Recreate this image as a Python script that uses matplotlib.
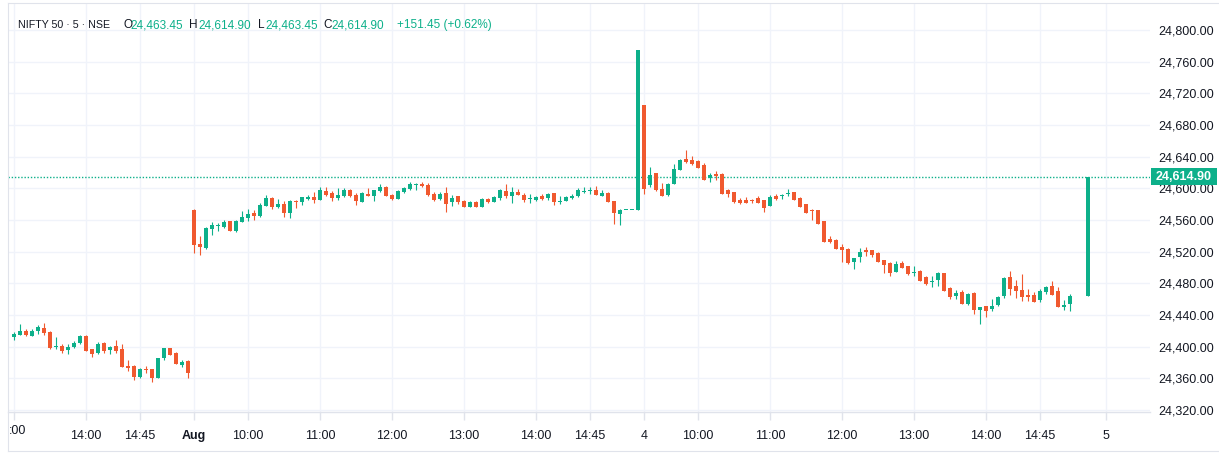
import matplotlib
matplotlib.use('Agg')
import matplotlib.pyplot as plt
from matplotlib.patches import Rectangle
from matplotlib.lines import Line2D
import numpy as np

plt.rcParams['font.family'] = ['Liberation Sans', 'DejaVu Sans']

W, H = 1219, 458
GREEN = '#0DB08A'
RED = '#F0592F'
TEXT = '#131722'
GRID = '#f0f3fa'
BORDER = '#e0e3eb'

# ---------------- data (NIFTY 50, 5-minute candles) ----------------
# Jul 31, 13:00 -> 15:25
jul31_open = [24412.2, 24414.7, 24419.4, 24413.5, 24419.8, 24423.2, 24418.1, 24399.2, 24400.4, 24395.8,
              24399.6, 24404.6, 24413.1, 24396.6, 24392.0, 24404.2, 24396.2, 24400.4, 24396.6, 24375.2,
              24375.2, 24361.7, 24371.4, 24371.4, 24360.4, 24385.3, 24398.7, 24391.6, 24376.8, 24381.5]
jul31_high = [24418.5, 24428.2, 24421.9, 24421.9, 24427.4, 24429.5, 24420.2, 24411.8, 24403.4, 24403.8,
              24406.7, 24414.3, 24414.3, 24397.5, 24405.9, 24405.5, 24400.4, 24408.0, 24403.4, 24382.7,
              24376.4, 24372.6, 24375.6, 24371.4, 24385.7, 24398.7, 24398.7, 24393.3, 24382.7, 24382.7]
jul31_low = [24408.4, 24414.7, 24413.5, 24413.5, 24416.4, 24414.7, 24396.6, 24397.5, 24392.0, 24390.7,
             24398.3, 24403.4, 24394.5, 24387.0, 24390.3, 24392.4, 24390.7, 24392.4, 24374.3, 24369.7,
             24357.5, 24360.8, 24366.3, 24355.4, 24360.4, 24383.2, 24389.5, 24378.1, 24374.7, 24360.4]
jul31_close = [24415.6, 24419.4, 24414.3, 24420.2, 24424.4, 24417.3, 24397.9, 24400.0, 24394.5, 24400.0,
               24404.6, 24413.1, 24394.5, 24390.7, 24403.0, 24394.5, 24399.2, 24394.5, 24374.3, 24373.1,
               24361.7, 24371.4, 24370.1, 24360.4, 24385.3, 24398.7, 24389.5, 24378.1, 24380.6, 24366.7]

# Aug 1, 09:15 -> 15:25
aug1_open = [24572.6, 24529.7, 24524.6, 24548.6, 24552.8, 24551.6, 24558.7, 24546.1, 24557.9, 24562.5,
             24568.8, 24565.1, 24578.1, 24587.8, 24576.8, 24580.2, 24569.3, 24584.4, 24583.2, 24586.1,
             24589.1, 24585.3, 24596.6, 24594.1, 24587.8, 24590.3, 24597.9, 24591.6, 24582.7, 24592.8,
             24590.3, 24596.6, 24601.7, 24591.6, 24587.0, 24595.4, 24599.6, 24604.6, 24605.5, 24604.2,
             24592.8, 24586.5, 24594.1, 24582.7, 24590.3, 24584.0, 24576.4, 24582.7, 24576.4, 24586.5,
             24582.7, 24587.8, 24596.6, 24590.3, 24595.4, 24591.6, 24586.1, 24585.3, 24590.3, 24587.8,
             24594.1, 24582.7, 24584.0, 24587.8, 24590.3, 24595.8, 24596.6, 24597.9, 24590.3, 24594.1,
             24584.0, 24567.6, 24573.0, 24573.0, 24573.0]
aug1_high = [24574.0, 24539.8, 24550.7, 24557.5, 24556.6, 24560.0, 24558.7, 24560.0, 24571.8, 24573.9,
             24572.6, 24581.9, 24592.0, 24589.5, 24586.5, 24584.0, 24585.3, 24585.3, 24588.6, 24591.6,
             24595.4, 24601.7, 24601.7, 24596.6, 24600.4, 24600.4, 24599.2, 24594.1, 24595.4, 24600.4,
             24597.9, 24605.5, 24602.9, 24592.8, 24597.9, 24601.7, 24608.0, 24606.7, 24608.0, 24606.7,
             24595.4, 24595.4, 24601.7, 24591.6, 24590.3, 24585.3, 24584.0, 24584.0, 24587.8, 24587.8,
             24590.3, 24599.2, 24605.5, 24601.7, 24599.2, 24594.1, 24592.8, 24590.3, 24592.8, 24594.1,
             24594.1, 24590.3, 24590.3, 24592.8, 24600.4, 24601.7, 24601.7, 24602.9, 24597.9, 24595.4,
             24584.0, 24573.9, 24573.0, 24573.0, 24774.8]
aug1_low = [24517.9, 24516.2, 24523.8, 24541.0, 24545.7, 24549.9, 24546.5, 24544.8, 24557.9, 24559.2,
            24560.4, 24564.2, 24578.1, 24573.5, 24575.6, 24564.2, 24562.9, 24575.6, 24579.4, 24584.8,
            24581.9, 24585.3, 24590.3, 24584.0, 24585.3, 24589.0, 24589.0, 24579.4, 24582.7, 24590.7,
            24584.4, 24595.4, 24590.3, 24585.7, 24587.0, 24594.1, 24598.3, 24598.3, 24602.1, 24590.3,
            24584.0, 24585.3, 24570.1, 24577.7, 24580.2, 24576.4, 24576.4, 24576.4, 24576.4, 24581.5,
            24582.7, 24585.3, 24587.8, 24581.5, 24591.6, 24582.7, 24581.5, 24584.0, 24585.3, 24585.3,
            24578.9, 24580.2, 24584.0, 24586.5, 24589.0, 24594.1, 24592.8, 24591.6, 24590.3, 24582.7,
            24554.9, 24553.7, 24573.0, 24573.0, 24573.0]
aug1_close = [24528.4, 24526.3, 24549.9, 24553.7, 24554.1, 24557.5, 24546.5, 24558.7, 24563.8, 24568.0,
              24565.5, 24579.4, 24587.8, 24576.8, 24580.2, 24569.3, 24584.0, 24583.2, 24588.6, 24589.1,
              24585.3, 24597.9, 24591.6, 24587.8, 24591.6, 24597.9, 24590.3, 24584.4, 24594.1, 24590.7,
              24597.9, 24601.7, 24590.3, 24587.0, 24596.6, 24600.4, 24605.5, 24605.5, 24603.4, 24591.6,
              24585.3, 24592.8, 24580.2, 24587.8, 24582.7, 24576.4, 24582.7, 24576.4, 24586.5, 24582.7,
              24589.1, 24597.9, 24590.3, 24595.4, 24591.6, 24585.3, 24586.9, 24589.1, 24586.5, 24592.8,
              24582.7, 24584.0, 24589.1, 24590.3, 24597.9, 24596.6, 24597.9, 24591.6, 24594.1, 24582.7,
              24568.8, 24572.6, 24573.0, 24573.0, 24774.8]

# Aug 4, 09:15 -> 15:25
aug4_open = [24705.3, 24604.3, 24619.4, 24599.2, 24591.7, 24605.5, 24623.2, 24637.1, 24635.9, 24634.6,
             24629.5, 24613.1, 24618.2, 24618.2, 24598.0, 24595.4, 24585.3, 24585.3, 24585.8, 24587.9,
             24585.3, 24577.3, 24590.8, 24590.0, 24592.5, 24595.9, 24588.3, 24579.9, 24572.3, 24572.0,
             24558.1, 24535.4, 24534.1, 24525.3, 24522.8, 24506.7, 24513.1, 24521.5, 24521.5, 24517.7,
             24508.9, 24505.5, 24494.1, 24505.1, 24501.3, 24492.9, 24495.4, 24487.4, 24481.9, 24484.0,
             24492.9, 24473.9, 24463.8, 24468.7, 24453.5, 24467.4, 24446.3, 24451.0, 24447.2, 24452.2,
             24463.6, 24487.6, 24476.2, 24471.2, 24464.9, 24464.9, 24458.5, 24468.7, 24476.2, 24469.9,
             24449.7, 24453.5, 24463.45, 24463.45, 24463.45]
aug4_high = [24705.3, 24627.0, 24619.4, 24606.8, 24606.8, 24630.8, 24637.1, 24648.5, 24640.9, 24635.9,
             24632.1, 24619.4, 24622.0, 24619.4, 24599.2, 24595.4, 24587.9, 24589.1, 24586.6, 24590.4,
             24585.3, 24592.1, 24593.3, 24592.5, 24598.8, 24595.9, 24589.5, 24579.9, 24573.5, 24572.0,
             24558.1, 24540.4, 24536.6, 24529.1, 24524.0, 24511.4, 24524.0, 24525.3, 24521.5, 24520.2,
             24508.9, 24506.7, 24507.6, 24507.6, 24501.3, 24501.3, 24496.6, 24489.1, 24489.1, 24494.1,
             24492.9, 24475.2, 24471.4, 24471.2, 24467.4, 24468.7, 24449.7, 24451.0, 24459.8, 24463.6,
             24487.6, 24495.2, 24483.8, 24491.4, 24472.4, 24468.7, 24472.4, 24476.2, 24482.5, 24474.9,
             24458.5, 24466.1, 24463.45, 24463.45, 24614.90]
aug4_low = [24592.9, 24601.8, 24596.7, 24590.4, 24590.4, 24605.5, 24623.2, 24632.1, 24629.5, 24626.2,
            24610.6, 24608.1, 24610.6, 24592.9, 24589.1, 24581.5, 24580.3, 24581.5, 24581.5, 24581.5,
            24570.2, 24577.3, 24585.8, 24586.6, 24590.0, 24584.9, 24576.1, 24568.5, 24560.5, 24554.7,
            24532.0, 24530.8, 24523.2, 24506.7, 24504.2, 24497.9, 24506.7, 24514.3, 24513.1, 24506.7,
            24492.9, 24489.1, 24494.1, 24499.2, 24490.3, 24489.1, 24482.8, 24477.7, 24475.2, 24476.4,
            24470.1, 24459.6, 24460.0, 24453.5, 24452.2, 24440.9, 24428.2, 24437.1, 24444.7, 24451.0,
            24461.1, 24464.9, 24461.1, 24457.3, 24457.3, 24456.0, 24456.0, 24466.1, 24464.9, 24449.7,
            24445.9, 24444.7, 24463.45, 24463.45, 24463.45]
aug4_close = [24599.2, 24616.9, 24598.0, 24590.4, 24605.5, 24624.5, 24635.9, 24633.3, 24630.8, 24626.2,
              24610.6, 24616.9, 24615.6, 24592.9, 24592.9, 24582.8, 24581.5, 24581.5, 24584.5, 24581.5,
              24575.2, 24589.5, 24587.0, 24591.2, 24593.7, 24584.9, 24576.1, 24568.5, 24571.0, 24554.7,
              24532.0, 24532.0, 24523.2, 24521.9, 24505.5, 24511.4, 24520.2, 24519.4, 24515.6, 24506.7,
              24503.0, 24492.9, 24503.8, 24499.2, 24491.6, 24494.1, 24482.8, 24479.0, 24483.2, 24492.9,
              24470.1, 24462.5, 24467.6, 24453.5, 24466.1, 24446.3, 24449.7, 24444.7, 24451.0, 24462.3,
              24486.3, 24472.4, 24469.9, 24462.3, 24462.3, 24456.0, 24469.9, 24474.9, 24464.9, 24449.7,
              24452.2, 24463.6, 24463.45, 24463.45, 24614.90]

session_starts = ["13:00", "09:15", "09:15"]
time_ticks = [(0, "13:00"), (0, "14:00"), (0, "14:45"),
              (1, "09:15"), (1, "10:00"), (1, "11:00"), (1, "12:00"), (1, "13:00"), (1, "14:00"), (1, "14:45"),
              (2, "09:15"), (2, "10:00"), (2, "11:00"), (2, "12:00"), (2, "13:00"), (2, "14:00"), (2, "14:45")]
tick_labels = [":00", "14:00", "14:45", "Aug", "10:00", "11:00", "12:00", "13:00", "14:00", "14:45",
               "4", "10:00", "11:00", "12:00", "13:00", "14:00", "14:45"]
next_day_label = "5"

header_name = "NIFTY 50 \u00b7 5 \u00b7 NSE"
last_ohlc = {"O": "24,463.45", "H": "24,614.90", "L": "24,463.45", "C": "24,614.90"}
change_text = "+151.45 (+0.62%)"
last_price = 24614.90
price_ticks = list(range(24320, 24801, 40))

# ---------------- assemble ----------------
opens = np.array(jul31_open + aug1_open + aug4_open)
highs = np.array(jul31_high + aug1_high + aug4_high)
lows = np.array(jul31_low + aug1_low + aug4_low)
closes = np.array(jul31_close + aug1_close + aug4_close)
session_len = [len(jul31_open), len(aug1_open), len(aug4_open)]
offsets = np.concatenate([[0], np.cumsum(session_len)[:-1]])
n = len(opens)
x = np.arange(n)


def to_min(t):
    h, m = t.split(":")
    return int(h) * 60 + int(m)


def slot(day, t):
    return offsets[day] + (to_min(t) - to_min(session_starts[day])) // 5


fig = plt.figure(figsize=(W / 100, H / 100), dpi=100)
fig.patch.set_facecolor('white')
L_PX, R_PX, T_PX, B_PX = 8, 1150, 3, 412
ax = fig.add_axes([L_PX / W, (H - B_PX) / H, (R_PX - L_PX) / W, (B_PX - T_PX) / H])
ax.set_facecolor('white')

up = closes >= opens
cols = np.where(up, GREEN, RED)
ax.vlines(x, lows, highs, colors=cols, linewidth=0.8, zorder=3)
body_bottom = np.minimum(opens, closes)
body_h = np.maximum(np.abs(closes - opens), 1.1)
ax.bar(x, body_h, bottom=body_bottom, width=0.8, color=cols, linewidth=0, zorder=4)

ax.axhline(last_price, color=GREEN, linewidth=1.0, linestyle=(0, (1, 1.3)), zorder=2)

ax.set_xlim(-1, (R_PX - 14) / 6)
ax.set_ylim(24800 - (B_PX - 30) * 1.2632, 24800 + (30 - T_PX) * 1.2632)

xt = [slot(d, t) for d, t in time_ticks] + [n - 1 + 3]
xl = [""] + tick_labels[1:] + [next_day_label]
ax.set_xticks(xt)
ax.set_xticklabels(xl)
for lab in ax.get_xticklabels():
    if lab.get_text() == "Aug":
        lab.set_fontweight('bold')
ax.set_yticks(price_ticks)
ax.set_yticklabels([f"{v:,.2f}" for v in price_ticks])
ax.yaxis.tick_right()
ax.tick_params(axis='x', length=6, color=BORDER, width=1, pad=7, labelsize=9, labelcolor=TEXT)
ax.tick_params(axis='y', length=0, pad=6, labelsize=9, labelcolor=TEXT)
ax.grid(True, color=GRID, linewidth=1, zorder=0)
ax.set_axisbelow(True)
for s in ['top', 'right', 'left']:
    ax.spines[s].set_visible(False)
ax.spines['bottom'].set_color(BORDER)
ax.spines['bottom'].set_linewidth(1)

# first clipped label
fig.text(9 / W, 1 - 431 / H, tick_labels[0], fontsize=9, color=TEXT, ha='left', va='center')

# widget border
for (x0, y0, x1, y1) in [(8, 3, 1219, 3), (8, 3, 8, 451), (8, 451, 1219, 451)]:
    fig.add_artist(Line2D([x0 / W, x1 / W], [1 - y0 / H, 1 - y1 / H], color=BORDER, linewidth=0.8))

# header
hy = 1 - 25 / H
fig.text(18 / W, hy, header_name, fontsize=7.7, color=TEXT, ha='left', va='center')
pieces = [(123, "O", TEXT), (130, last_ohlc["O"], GREEN),
          (189, "H", TEXT), (198, last_ohlc["H"], GREEN), (258, "L", TEXT), (265, last_ohlc["L"], GREEN),
          (323, "C", TEXT), (331, last_ohlc["C"], GREEN), (397, change_text, GREEN)]
for px, s, c in pieces:
    fig.text(px / W, hy, s, fontsize=8.5, color=c, ha='left', va='center')

# last price label
ly = 30 + (24800 - last_price) / 1.2632
fig.add_artist(Rectangle((1151 / W, 1 - (ly + 8.5) / H), 66 / W, 17 / H, facecolor=GREEN,
                         edgecolor='none', transform=fig.transFigure, zorder=5))
fig.text(1184 / W, 1 - ly / H, f"{last_price:,.2f}", fontsize=9, color='white', fontweight='bold',
         ha='center', va='center', zorder=6)

fig.savefig('out.png', dpi=100, facecolor='white')
